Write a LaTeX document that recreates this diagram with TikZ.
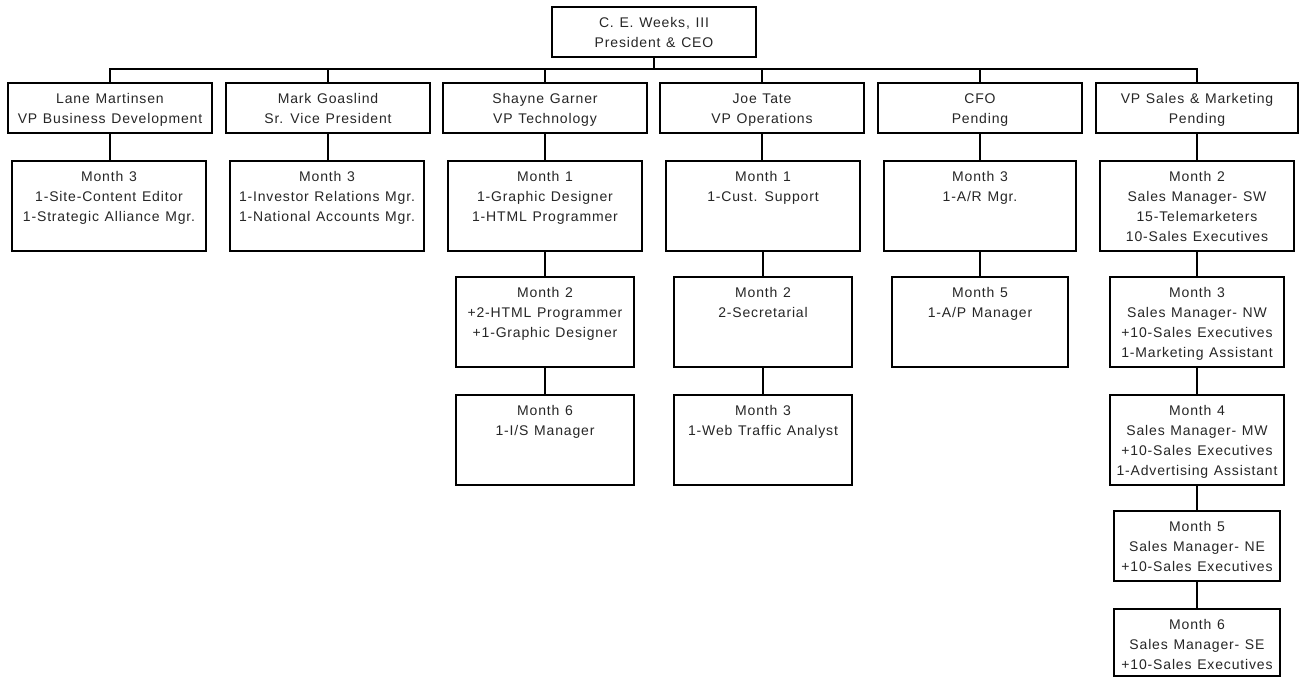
\documentclass[tikz,border=0pt]{standalone}
\usepackage{fontspec}
\newfontfamily\orgfont[LetterSpace=6,WordSpace=1.2]{Liberation Sans}
\newcommand\fl{\rule{0pt}{11pt}}
\tikzset{
  box/.style={draw, line width=1.8pt, inner sep=0pt},
  lbl/.style={anchor=north, inner sep=0pt, align=center, text=black!85, font=\orgfont\fontsize{14}{20}\selectfont},
  link/.style={line width=1.8pt}
}
\newcommand\bx[6]{%
  \node[box, minimum width={(#4)-(#2)}, minimum height={(#5)-(#3)}] (#1) at ({((#2)+(#4))/2},{((#3)+(#5))/2}) {};
  \node[lbl] (#1t) at ({((#2)+(#4))/2},{(#3)+9}) {\fl #6};
}
\begin{document}
\begin{tikzpicture}[x=1pt,y=-1pt]
\useasboundingbox[fill=white] (0,0) rectangle (1299,677);
\bx{ceo}{552}{7}{756}{57}{C. E. Weeks, III\\President \& CEO}
% row 1
\bx{vpa}{8}{83}{212}{133}{Lane Martinsen\\VP Business Development}
\bx{vpb}{226}{83}{430}{133}{Mark Goaslind\\Sr. Vice President}
\bx{vpc}{443}{83}{647}{133}{Shayne Garner\\VP Technology}
\bx{vpd}{660}{83}{864}{133}{Joe Tate\\VP Operations}
\bx{vpe}{878}{83}{1082}{133}{CFO\\Pending}
\bx{vpf}{1096}{83}{1298}{133}{VP Sales \& Marketing\\Pending}
% row 2
\bx{ma}{12}{161}{206}{251}{Month 3\\1-Site-Content Editor\\1-Strategic Alliance Mgr.}
\bx{mb}{230}{161}{424}{251}{Month 3\\1-Investor Relations Mgr.\\1-National Accounts Mgr.}
\bx{mc}{448}{161}{642}{251}{Month 1\\1-Graphic Designer\\1-HTML Programmer}
\bx{md}{666}{161}{860}{251}{Month 1\\1-Cust. Support}
\bx{me}{884}{161}{1076}{251}{Month 3\\1-A/R Mgr.}
\bx{mf}{1100}{161}{1294}{251}{Month 2\\Sales Manager- SW\\15-Telemarketers\\10-Sales Executives}
% row 3
\bx{tc}{456}{277}{634}{367}{Month 2\\+2-HTML Programmer\\+1-Graphic Designer}
\bx{td}{674}{277}{852}{367}{Month 2\\2-Secretarial}
\bx{te}{892}{277}{1068}{367}{Month 5\\1-A/P Manager}
\bx{tf}{1110}{277}{1284}{367}{Month 3\\Sales Manager- NW\\+10-Sales Executives\\1-Marketing Assistant}
% row 4
\bx{uc}{456}{395}{634}{485}{Month 6\\1-I/S Manager}
\bx{ud}{674}{395}{852}{485}{Month 3\\1-Web Traffic Analyst}
\bx{uf}{1110}{395}{1284}{485}{Month 4\\Sales Manager- MW\\+10-Sales Executives\\1-Advertising Assistant}
% sales tail
\bx{vf}{1114}{511}{1280}{581}{Month 5\\Sales Manager- NE\\+10-Sales Executives}
\bx{wf}{1114}{609}{1280}{676}{Month 6\\Sales Manager- SE\\+10-Sales Executives}
% bus
\coordinate (bus) at (0,69);
\draw[link] (ceo.south) -- (ceo.south |- bus);
\draw[link] (vpa.north) -- (vpa.north |- bus) -- (vpf.north |- bus) -- (vpf.north);
\foreach \n in {vpb,vpc,vpd,vpe}{\draw[link] (\n.north) -- (\n.north |- bus);}
% verticals
\draw[link] (vpa.south) -- (vpa.south |- ma.north);
\draw[link] (vpb.south) -- (vpb.south |- mb.north);
\draw[link] (vpc.south) -- (vpc.south |- mc.north);
\draw[link] (vpd.south) -- (vpd.south |- md.north);
\draw[link] (vpe.south) -- (vpe.south |- me.north);
\draw[link] (vpf.south) -- (vpf.south |- mf.north);
\draw[link] (mc.south) -- (mc.south |- tc.north);
\draw[link] (md.south) -- (md.south |- td.north);
\draw[link] (me.south) -- (me.south |- te.north);
\draw[link] (mf.south) -- (mf.south |- tf.north);
\draw[link] (tc.south) -- (tc.south |- uc.north);
\draw[link] (td.south) -- (td.south |- ud.north);
\draw[link] (tf.south) -- (tf.south |- uf.north);
\draw[link] (uf.south) -- (uf.south |- vf.north);
\draw[link] (vf.south) -- (vf.south |- wf.north);
\end{tikzpicture}
\end{document}
